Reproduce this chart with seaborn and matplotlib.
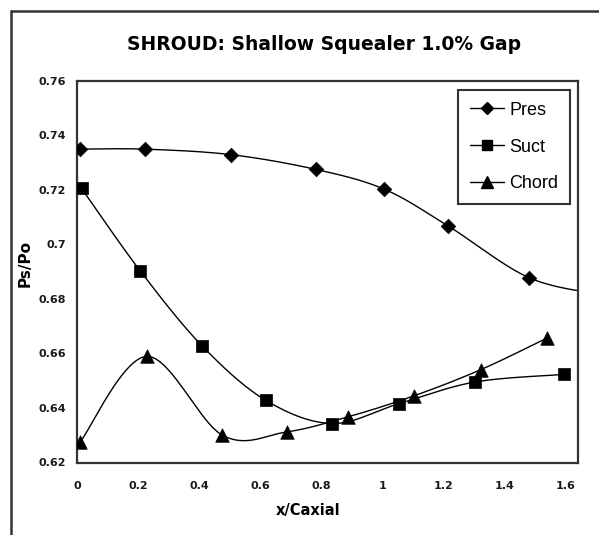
import numpy as np
import pandas as pd
import matplotlib
matplotlib.use("Agg")
import matplotlib.pyplot as plt
from matplotlib.lines import Line2D
import seaborn as sns

# ---- data ----
pres_x = [0.011, 0.223, 0.503, 0.781, 1.006, 1.214, 1.479, 1.72]
pres_y = [0.7349, 0.7349, 0.7329, 0.7275, 0.7202, 0.7068, 0.6878, 0.6815]
suct_x = [0.015, 0.206, 0.410, 0.618, 0.835, 1.054, 1.302, 1.593]
suct_y = [0.7205, 0.6904, 0.6627, 0.6428, 0.6343, 0.6416, 0.6495, 0.6523]
chord_x = [0.011, 0.228, 0.476, 0.686, 0.886, 1.102, 1.321, 1.538]
chord_y = [0.6276, 0.6589, 0.6300, 0.6312, 0.6367, 0.6444, 0.6540, 0.6656]
series_names = ["Pres", "Suct", "Chord"]
x_ticks = [0, 0.2, 0.4, 0.6, 0.8, 1, 1.2, 1.4, 1.6]
x_tick_labels = ["0", "0.2", "0.4", "0.6", "0.8", "1", "1.2", "1.4", "1.6"]
y_ticks = [0.62, 0.64, 0.66, 0.68, 0.70, 0.72, 0.74, 0.76]
y_tick_labels = ["0.62", "0.64", "0.66", "0.68", "0.7", "0.72", "0.74", "0.76"]

frames = []
for name, xs, ys in [("Pres", pres_x, pres_y), ("Suct", suct_x, suct_y), ("Chord", chord_x, chord_y)]:
    frames.append(pd.DataFrame({"x": xs, "y": ys, "series": name}))
df = pd.concat(frames, ignore_index=True)


def smooth(xs, ys, n=40):
    """Excel-style smoothed line (Bezier with Catmull-Rom control points)."""
    P = np.column_stack([xs, ys]).astype(float)
    m = len(P)
    out = []
    for i in range(m - 1):
        p0 = P[i - 1] if i > 0 else P[i]
        p1 = P[i]
        p2 = P[i + 1]
        p3 = P[i + 2] if i + 2 < m else P[i + 1]
        c1 = p1 + (p2 - p0) / 6.0
        c2 = p2 - (p3 - p1) / 6.0
        t = np.linspace(0, 1, n)[:, None]
        seg = ((1 - t) ** 3) * p1 + 3 * ((1 - t) ** 2) * t * c1 + 3 * (1 - t) * t ** 2 * c2 + t ** 3 * p2
        out.append(seg if i == 0 else seg[1:])
    s = np.vstack(out)
    return s[:, 0], s[:, 1]


sns.set_style("white")
plt.rcParams["font.family"] = ["Liberation Sans", "DejaVu Sans"]
plt.rcParams["text.color"] = "black"
plt.rcParams["axes.labelcolor"] = "black"

fig = plt.figure(figsize=(5.99, 5.35), dpi=100)
ax = fig.add_axes([77 / 599, 1 - 462.5 / 535, (578 - 77) / 599, (462.5 - 80.7) / 535])

# smoothed curves
curve_rows = []
for name in series_names:
    sub = df[df.series == name]
    cx, cy = smooth(sub.x.values, sub.y.values)
    curve_rows.append(pd.DataFrame({"x": cx, "y": cy, "series": name}))
curves = pd.concat(curve_rows, ignore_index=True)
for name in series_names:
    c = curves[curves.series == name]
    sns.lineplot(data=c, x="x", y="y", sort=False, estimator=None, color="black",
                 linewidth=1.0, ax=ax, legend=False)

markers = {"Pres": "D", "Suct": "s", "Chord": "^"}
msizes = {"Pres": 55, "Suct": 75, "Chord": 95}
for name in series_names:
    sub = df[df.series == name]
    sns.scatterplot(data=sub, x="x", y="y", marker=markers[name], s=msizes[name],
                    color="black", edgecolor="black", linewidth=0.5, ax=ax, legend=False,
                    zorder=3, clip_on=True)

ax.set_xlim(0, 1.64)
ax.set_ylim(0.62, 0.76)
ax.set_xticks(x_ticks)
ax.set_xticklabels(x_tick_labels)
ax.set_yticks(y_ticks)
ax.set_yticklabels(y_tick_labels)
for lab in ax.get_xticklabels() + ax.get_yticklabels():
    lab.set_fontfamily("DejaVu Sans")
    lab.set_fontweight("bold")
    lab.set_fontsize(8)
    lab.set_color("#1a1a1a")
ax.tick_params(axis="both", direction="in", length=4, width=1, color="#333333")
ax.tick_params(axis="y", pad=8)
ax.tick_params(axis="x", pad=13)
for sp in ax.spines.values():
    sp.set_visible(True)
    sp.set_linewidth(1.6)
    sp.set_color("#333333")

ax.set_xlabel("x/Caxial", fontsize=10.5, fontweight="bold", family="DejaVu Sans", color="black")
ax.xaxis.set_label_coords((308 - 77) / (578 - 77), -(503 - 462.5) / (462.5 - 80.7))
ax.set_ylabel("Ps/Po", fontsize=11, fontweight="bold", family="DejaVu Sans", color="black")
ax.yaxis.set_label_coords(-(77 - 33) / (578 - 77), 0.52)

fig.text(324 / 599, 1 - 44 / 535, "SHROUD: Shallow Squealer 1.0% Gap", ha="center", va="center",
         fontsize=13.5, fontweight="bold", family="DejaVu Sans", color="black")

handles = [Line2D([0], [0], color="black", lw=1.0, marker=markers[n], markersize=ms, markerfacecolor="black")
           for n, ms in zip(series_names, [6.5, 7.5, 8.5])]
leg = ax.legend(handles, series_names, loc="upper right", bbox_to_anchor=(570 / 599, 1 - 90 / 535),
                bbox_transform=fig.transFigure, frameon=True, fancybox=False, fontsize=13,
                handlelength=1.9, handletextpad=0.3, labelspacing=1.1, borderpad=0.65,
                borderaxespad=0)
leg.get_frame().set_edgecolor("black")
leg.get_frame().set_linewidth(1.5)
for t in leg.get_texts():
    t.set_color("black")

# outer chart-area border (left and top edges visible)
fig.add_artist(Line2D([11 / 599, 11 / 599], [0, 1 - 11 / 535], transform=fig.transFigure,
                      color="#333333", lw=1.8))
fig.add_artist(Line2D([11 / 599, 1], [1 - 11 / 535, 1 - 11 / 535], transform=fig.transFigure,
                      color="#333333", lw=1.8))

fig.savefig("out.png", dpi=100)
